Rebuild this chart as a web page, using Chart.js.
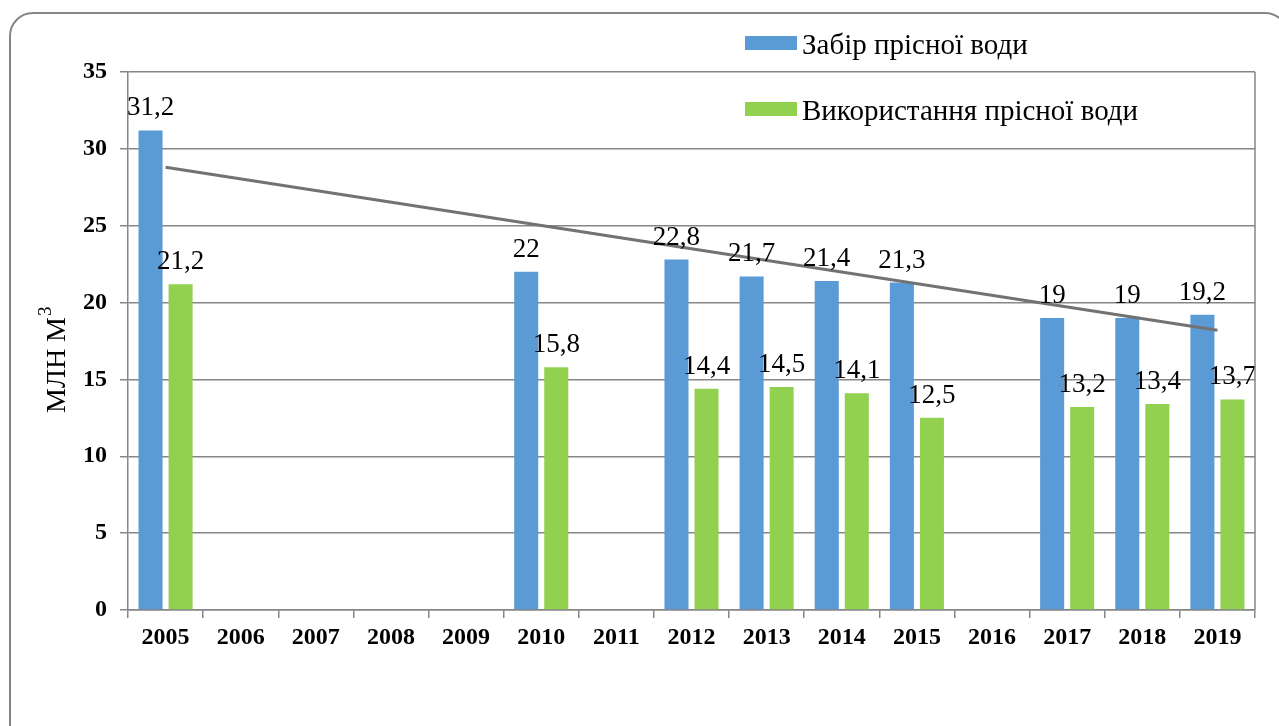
<!DOCTYPE html>
<html>
<head>
<meta charset="utf-8">
<script src="https://cdn.jsdelivr.net/npm/chart.js"></script>
<style>
  html, body { margin: 0; padding: 0; background: #fff; overflow: hidden; }
  #wrap { position: relative; width: 1279px; height: 726px; overflow: hidden; }
  #frame { position: absolute; left: 9px; top: 12px; width: 1280px; height: 800px;
           border: 2px solid #858585; border-radius: 24px; box-sizing: border-box; }
  canvas { position: absolute; left: 0; top: 0; }
</style>
</head>
<body>
<div id="wrap">
  <div id="frame"></div>
  <canvas id="chart" width="1279" height="726"></canvas>
</div>
<script>
// Chart data
const years = ['2005','2006','2007','2008','2009','2010','2011','2012','2013','2014','2015','2016','2017','2018','2019'];
const intake = [31.2, null, null, null, null, 22, null, 22.8, 21.7, 21.4, 21.3, null, 19, 19, 19.2];
const usage = [21.2, null, null, null, null, 15.8, null, 14.4, 14.5, 14.1, 12.5, null, 13.2, 13.4, 13.7];
const trend = [28.8, null, null, null, null, null, null, null, null, null, null, null, null, null, 18.2];
const seriesNames = ['Забір прісної води', 'Використання прісної води'];
const yTicks = [0, 5, 10, 15, 20, 25, 30, 35];

const BLUE = '#5B9BD5';
const GREEN = '#92D050';
const GRID = '#868686';
const SERIF = '"Liberation Serif", "Times New Roman", serif';

const valueLabels = {
  id: 'valueLabels',
  afterDatasetsDraw(chart) {
    const ctx = chart.ctx;
    ctx.save();
    ctx.font = '27px ' + SERIF;
    ctx.fillStyle = '#000';
    ctx.textAlign = 'center';
    ctx.textBaseline = 'alphabetic';
    [0, 1].forEach(di => {
      const meta = chart.getDatasetMeta(di);
      const data = chart.data.datasets[di].data;
      meta.data.forEach((bar, i) => {
        if (data[i] == null) return;
        ctx.fillText(String(data[i]).replace('.', ','), bar.x, bar.y - 15);
      });
    });
    ctx.restore();
  }
};

const extras = {
  id: 'extras',
  afterDraw(chart) {
    const ctx = chart.ctx;
    const a = chart.chartArea;
    ctx.save();
    // right border of plot
    ctx.strokeStyle = GRID;
    ctx.lineWidth = 1.5;
    ctx.beginPath();
    ctx.moveTo(a.right, a.top);
    ctx.lineTo(a.right, a.bottom);
    ctx.stroke();

    // legend
    const items = [
      { color: BLUE, text: seriesNames[0], y: 36 },
      { color: GREEN, text: seriesNames[1], y: 102 }
    ];
    ctx.font = '29px ' + SERIF;
    ctx.textBaseline = 'alphabetic';
    ctx.textAlign = 'left';
    items.forEach(it => {
      ctx.fillStyle = it.color;
      ctx.fillRect(745, it.y, 52, 14);
      ctx.fillStyle = '#000';
      ctx.fillText(it.text, 802, it.y + 18);
    });

    // y axis title with superscript
    ctx.translate(65, 413);
    ctx.rotate(-Math.PI / 2);
    ctx.font = '28px ' + SERIF;
    ctx.fillStyle = '#000';
    ctx.fillText('МЛН М', 0, 0);
    const w = ctx.measureText('МЛН М').width;
    ctx.font = '19px ' + SERIF;
    ctx.fillText('3', w + 1, -14);
    ctx.restore();
  }
};

new Chart(document.getElementById('chart'), {
  type: 'bar',
  data: {
    labels: years,
    datasets: [
      { label: seriesNames[0], data: intake, backgroundColor: BLUE, order: 2,
        barPercentage: 0.8, categoryPercentage: 0.8 },
      { label: seriesNames[1], data: usage, backgroundColor: GREEN, order: 2,
        barPercentage: 0.8, categoryPercentage: 0.8 },
      { type: 'line', label: 'trend', data: trend, borderColor: '#727272', borderWidth: 3,
        pointRadius: 0, spanGaps: true, order: 1, fill: false }
    ]
  },
  options: {
    responsive: false,
    animation: false,
    layout: { padding: { left: 0, top: 72, right: 24, bottom: 0 } },
    plugins: { legend: { display: false }, tooltip: { enabled: false } },
    scales: {
      x: {
        grid: { drawOnChartArea: false, color: GRID, tickLength: 8, lineWidth: 1.5 },
        border: { color: GRID, width: 1.5 },
        ticks: { color: '#000', font: { family: SERIF, size: 24, weight: 'bold' }, padding: 5, maxRotation: 0 },
        afterFit: s => { s.height = 116; }
      },
      y: {
        min: 0, max: 35,
        afterBuildTicks: s => { s.ticks = yTicks.map(v => ({ value: v })); },
        grid: { color: GRID, tickLength: 8, lineWidth: 1.5 },
        border: { color: GRID, width: 1.5 },
        ticks: { color: '#000', font: { family: SERIF, size: 24, weight: 'bold' }, padding: 13 },
        afterFit: s => { s.width = 128; }
      }
    }
  },
  plugins: [valueLabels, extras]
});
</script>
</body>
</html>
